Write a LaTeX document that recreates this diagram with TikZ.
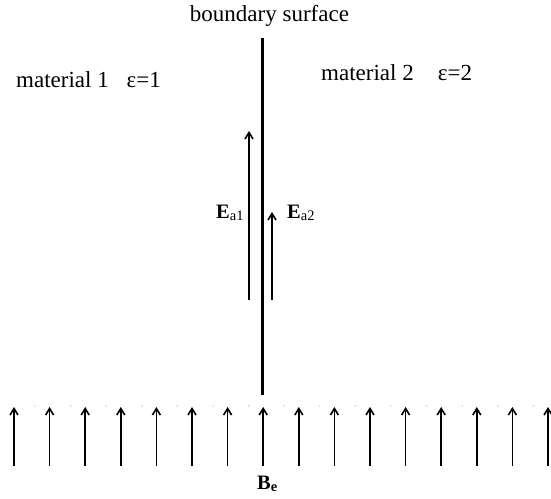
\documentclass[tikz,border=0pt]{standalone}
\usepackage{fontspec}
\setmainfont{Liberation Serif}
\usetikzlibrary{arrows.meta}
\begin{document}
\begin{tikzpicture}[x=1pt,y=-1pt,
  txt/.style={inner sep=0pt,font=\fontsize{23}{27}\selectfont},
  lab/.style={inner sep=0pt,font=\fontsize{20.5}{24}\selectfont},
  arr/.style={line width=1.6pt,-{Straight Barb[length=6.5pt,width=8pt,line width=1.6pt]}},
  wall/.style={line width=3pt},
  speck/.style={fill=black!30,draw=none}]
\useasboundingbox (0,0) rectangle (551,498);
% boundary
\coordinate (wt) at (262,38);
\coordinate (wb) at (262,395);
\draw[wall] (wt) -- (wb);
\node[txt,anchor=base] (bs) at (269.5,21) {boundary surface};
\node[txt,anchor=base west] (m1) at (16,87) {material 1\hspace{0.78em}ε=1};
\node[txt,anchor=base west] (m2) at (321,80) {material 2\hspace{1.05em}ε=2};
% E arrows
\coordinate (e1s) at (249,300);
\coordinate (e1e) at (249,131);
\coordinate (e2s) at (272,300);
\coordinate (e2e) at (272,212);
\draw[arr] (e1s) -- (e1e);
\draw[arr] (e2s) -- (e2e);
\node[lab,anchor=base west] (ea1) at (216,218) {\textbf{E}\raisebox{-2pt}{\fontsize{14.5}{16}\selectfont a1}};
\node[lab,anchor=base west] (ea2) at (287,218) {\textbf{E}\raisebox{-2pt}{\fontsize{14.5}{16}\selectfont a2}};
% bottom field arrows
\foreach \i in {0,...,15}{
  \pgfmathsetmacro{\xx}{14+35.6*\i}
  \coordinate (b\i s) at (\xx,466);
  \coordinate (b\i e) at (\xx,407);
  \draw[arr] (b\i s) -- (b\i e);
}
\foreach \i in {0,...,14}{
  \pgfmathsetmacro{\xx}{35+35.6*\i}
  \fill[speck] (\xx,406) circle (0.7);
}
\node[lab,anchor=base west] (be) at (257,489) {\textbf{B}\raisebox{-2pt}{\fontsize{14.5}{16}\selectfont\textbf{e}}};
\end{tikzpicture}
\end{document}
